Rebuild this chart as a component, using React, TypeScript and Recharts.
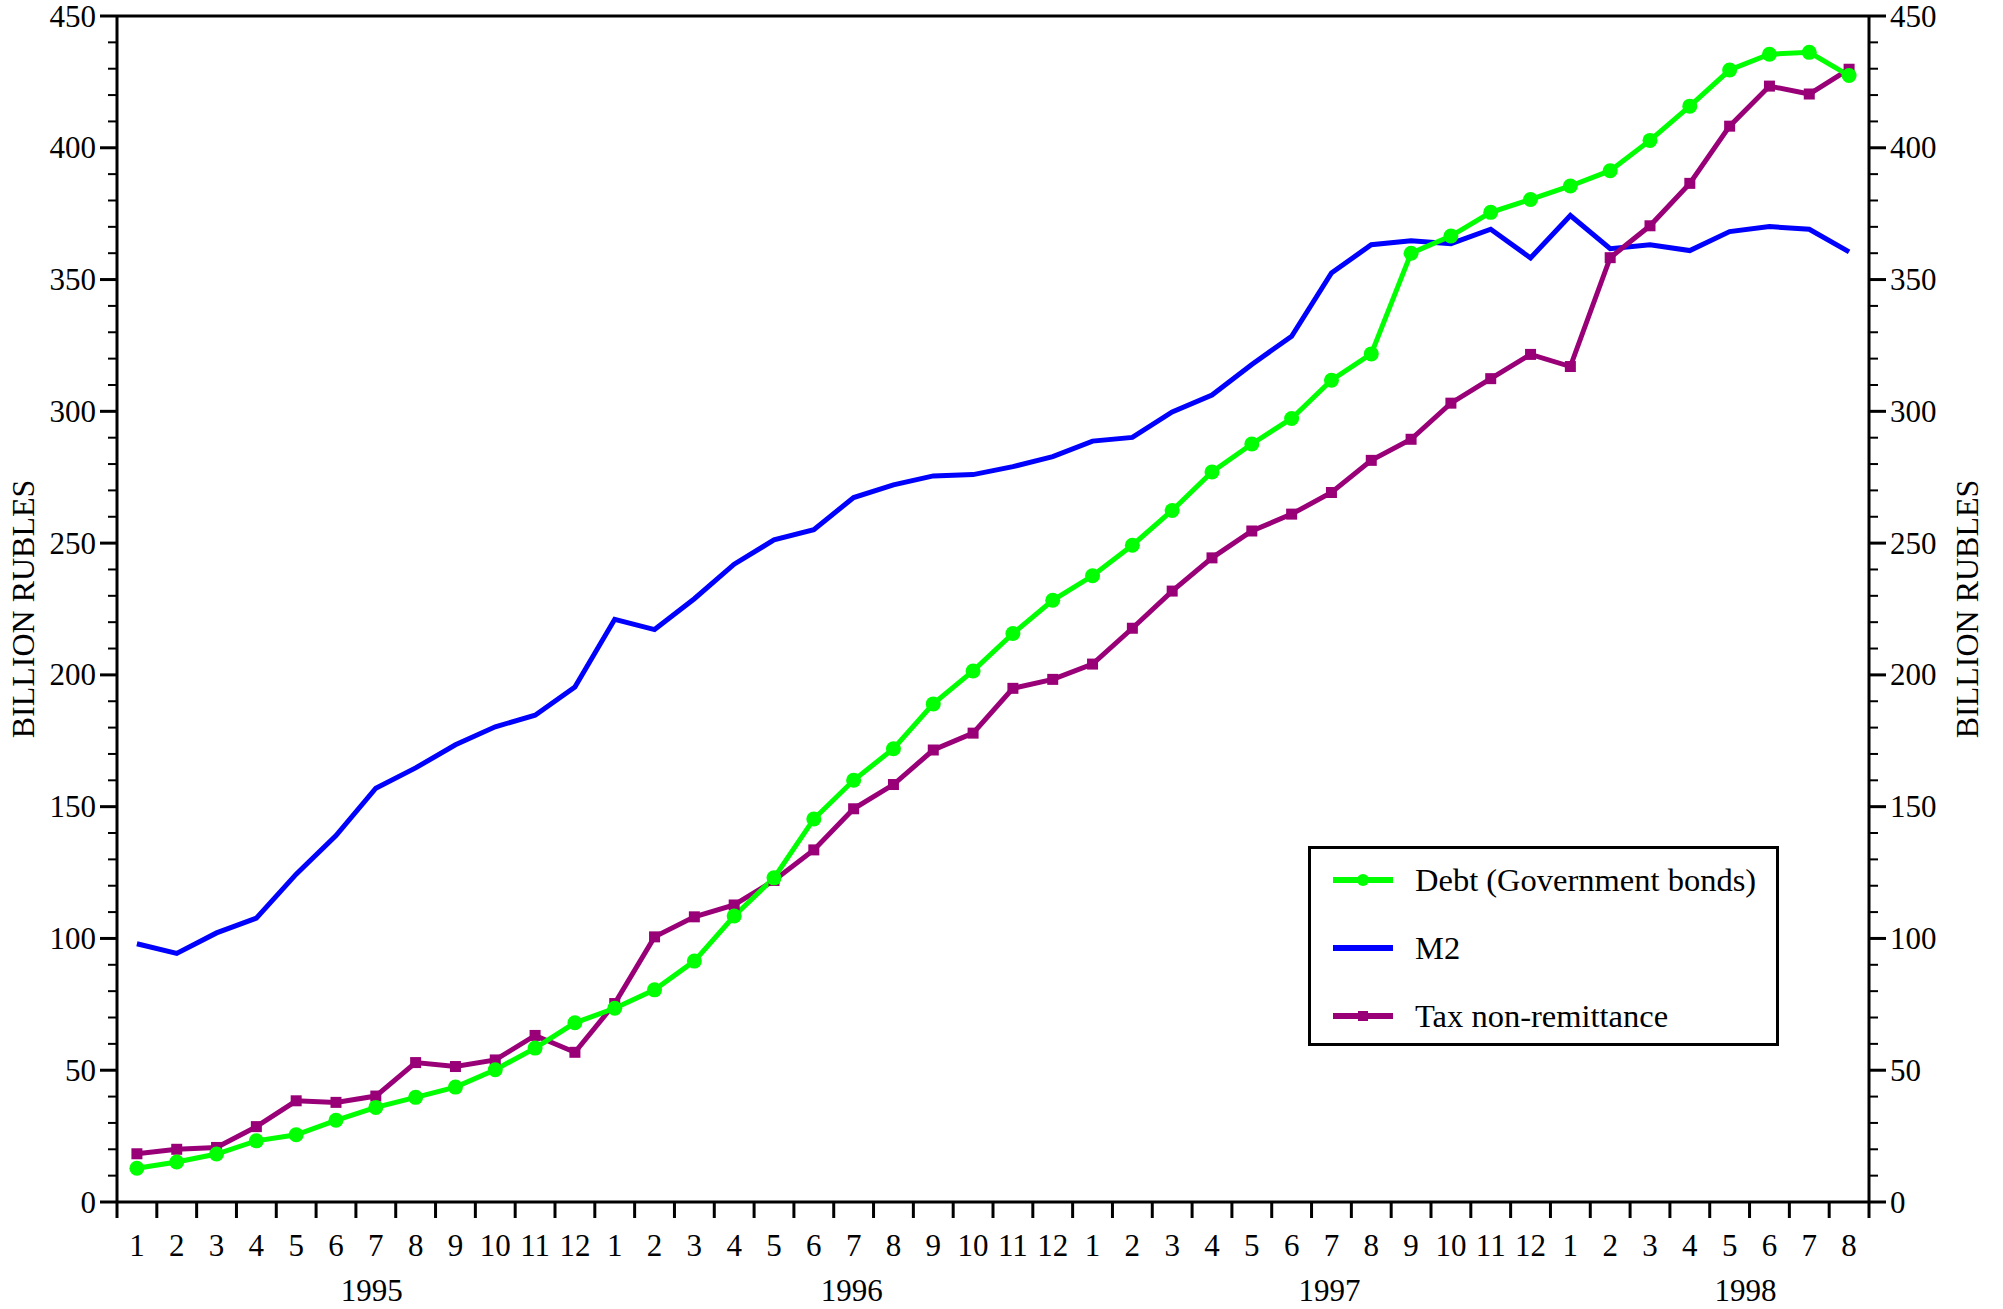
import { LineChart, Line, XAxis, YAxis, Legend, ReferenceLine } from "recharts";

const FONT = "'Liberation Serif', 'Times New Roman', serif";

const MONTHS = [
  "1", "2", "3", "4", "5", "6", "7", "8", "9", "10", "11", "12",
  "1", "2", "3", "4", "5", "6", "7", "8", "9", "10", "11", "12",
  "1", "2", "3", "4", "5", "6", "7", "8", "9", "10", "11", "12",
  "1", "2", "3", "4", "5", "6", "7", "8",
];
const YEARS = [
  1995, 1995, 1995, 1995, 1995, 1995, 1995, 1995, 1995, 1995, 1995, 1995,
  1996, 1996, 1996, 1996, 1996, 1996, 1996, 1996, 1996, 1996, 1996, 1996,
  1997, 1997, 1997, 1997, 1997, 1997, 1997, 1997, 1997, 1997, 1997, 1997,
  1998, 1998, 1998, 1998, 1998, 1998, 1998, 1998,
];

// Debt (Government bonds), billion rubles
const DEBT = [
  12.8, 15.2, 18.2, 23.2, 25.5, 31.0, 35.9, 39.7, 43.6, 50.2, 58.4, 68.0,
  73.5, 80.5, 91.4, 108.5, 123.0, 145.3, 160.0, 172.0, 189.0, 201.5, 215.7, 228.3,
  237.6, 249.2, 262.4, 277.0, 287.6, 297.3, 311.8, 321.8, 360.0, 366.5, 375.5, 380.4,
  385.5, 391.3, 402.8, 415.8, 429.5, 435.5, 436.2, 427.4,
];
const M2 = [
  98.0, 94.3, 102.1, 107.7, 124.4, 139.0, 157.0, 164.7, 173.5, 180.3, 184.7, 195.4,
  221.1, 217.2, 228.9, 242.0, 251.2, 255.1, 267.3, 272.1, 275.5, 276.0, 279.0, 282.8,
  288.7, 290.1, 299.8, 306.2, 317.8, 328.5, 352.5, 363.2, 364.7, 363.6, 369.1, 358.2,
  374.3, 361.7, 363.2, 361.0, 368.2, 370.1, 369.1, 360.5,
];
const TAX = [
  18.3, 20.0, 20.7, 28.6, 38.4, 37.8, 40.2, 52.9, 51.4, 53.9, 63.2, 56.8,
  75.3, 100.6, 108.2, 112.7, 122.0, 133.6, 149.2, 158.4, 171.5, 177.9, 194.9, 198.3,
  204.1, 217.7, 231.8, 244.4, 254.6, 261.0, 269.2, 281.4, 289.4, 303.1, 312.4, 321.6,
  317.0, 358.3, 370.4, 386.5, 408.2, 423.4, 420.4, 429.8,
];

const Y_TICKS = Array.from({ length: 46 }, (_, i) => i * 10);
// year captions, placed under month index (fractional)
const YEAR_LABELS = [
  { text: "1995", at: 5.9 },
  { text: "1996", at: 17.95 },
  { text: "1997", at: 29.95 },
  { text: "1998", at: 40.4 },
];

const data = MONTHS.map((m, i) => ({
  period: `${YEARS[i]}-${m}`,
  debt: DEBT[i],
  m2: M2[i],
  tax: TAX[i],
}));

const W = 2003;
const H = 1309;
const Y_AXIS_W = 110;
const MARGIN = { top: 16, right: 24, left: 7, bottom: 7 };
const PLOT_W = W - MARGIN.left - MARGIN.right - 2 * Y_AXIS_W;
const BAND = PLOT_W / MONTHS.length;
const FS = 31;

const GREEN = "#00ff00";
const BLUE = "#0000ff";
const PURPLE = "#990077";

function LeftTick({ x, y, payload }: any) {
  const major = payload.value % 50 === 0;
  return (
    <g>
      <line x1={x} x2={x - (major ? 17 : 9)} y1={y} y2={y} stroke="#000" strokeWidth={major ? 3 : 2} />
      {major && (
        <text x={x - 21} y={y} textAnchor="end" dominantBaseline="central" fontSize={FS} fontFamily={FONT} fill="#000">
          {payload.value}
        </text>
      )}
    </g>
  );
}

function RightTick({ x, y, payload }: any) {
  const major = payload.value % 50 === 0;
  return (
    <g>
      <line x1={x} x2={x + (major ? 17 : 9)} y1={y} y2={y} stroke="#000" strokeWidth={major ? 3 : 2} />
      {major && (
        <text x={x + 21} y={y} textAnchor="start" dominantBaseline="central" fontSize={FS} fontFamily={FONT} fill="#000">
          {payload.value}
        </text>
      )}
    </g>
  );
}

function MonthTick({ x, y, index }: any) {
  const year = YEAR_LABELS.find((l) => Math.floor(l.at + 0.5) === index);
  return (
    <g>
      <line x1={x - BAND / 2} x2={x - BAND / 2} y1={y} y2={y + 16} stroke="#000" strokeWidth={3} />
      {index === MONTHS.length - 1 && (
        <line x1={x + BAND / 2} x2={x + BAND / 2} y1={y} y2={y + 16} stroke="#000" strokeWidth={3} />
      )}
      <text x={x} y={y + 54} textAnchor="middle" fontSize={FS} fontFamily={FONT} fill="#000">
        {MONTHS[index]}
      </text>
      {year && (
        <text x={x + (year.at - index) * BAND} y={y + 99} textAnchor="middle" fontSize={FS} fontFamily={FONT} fill="#000">
          {year.text}
        </text>
      )}
    </g>
  );
}

const axisLabel = (side: "left" | "right") => (props: any) => {
  const { x, y, width, height } = props.viewBox;
  const cx = side === "left" ? x + 15.5 : x + 98;
  const cy = y + height / 2;
  return (
    <text
      x={cx}
      y={cy}
      transform={`rotate(-90, ${cx}, ${cy})`}
      textAnchor="middle"
      dominantBaseline="central"
      fontSize={32}
      fontFamily={FONT}
      fill="#000"
    >
      BILLION RUBLES
    </text>
  );
};

function SquareDot(props: any) {
  const { cx, cy, index } = props;
  return <rect key={`sq-${index}`} x={cx - 5.5} y={cy - 5.5} width={11} height={11} fill={PURPLE} />;
}

const LEGEND_ITEMS = [
  { name: "Debt (Government bonds)", color: GREEN, marker: "circle" },
  { name: "M2", color: BLUE, marker: "none" },
  { name: "Tax non-remittance", color: PURPLE, marker: "square" },
];

function LegendBox() {
  return (
    <div
      style={{
        position: "relative",
        width: 471,
        height: 200,
        boxSizing: "border-box",
        border: "3px solid #000",
        background: "#fff",
      }}
    >
      {LEGEND_ITEMS.map((item, i) => (
        <div key={item.name} style={{ position: "absolute", left: 0, top: 31 + i * 68 - 20, height: 40, width: "100%" }}>
          <svg width={62} height={20} style={{ position: "absolute", left: 21, top: 10 }}>
            <line x1={1} x2={61} y1={10} y2={10} stroke={item.color} strokeWidth={6} />
            {item.marker === "circle" && <circle cx={31} cy={10} r={6} fill={item.color} />}
            {item.marker === "square" && <rect x={26} y={5} width={10} height={10} fill={item.color} />}
          </svg>
          <span
            style={{
              position: "absolute",
              left: 104,
              top: 0,
              lineHeight: "40px",
              fontSize: 32.5,
              fontFamily: FONT,
              color: "#000",
              whiteSpace: "nowrap",
            }}
          >
            {item.name}
          </span>
        </div>
      ))}
    </div>
  );
}

export default function App() {
  return (
    <div style={{ position: "absolute", left: 0, top: 0, width: W, height: H, background: "#fff" }}>
      <LineChart width={W} height={H} data={data} margin={MARGIN}>
        <XAxis
          dataKey="period"
          interval={0}
          height={100}
          padding={{ left: BAND / 2, right: BAND / 2 }}
          tickSize={0}
          tickMargin={0}
          tickLine={false}
          axisLine={{ stroke: "#000", strokeWidth: 3 }}
          tick={<MonthTick />}
        />
        <YAxis
          yAxisId="left"
          width={Y_AXIS_W}
          domain={[0, 450]}
          ticks={Y_TICKS}
          interval={0}
          tickSize={0}
          tickMargin={0}
          tickLine={false}
          axisLine={{ stroke: "#000", strokeWidth: 3 }}
          tick={<LeftTick />}
          label={{ content: axisLabel("left") }}
        />
        <YAxis
          yAxisId="right"
          orientation="right"
          width={Y_AXIS_W}
          domain={[0, 450]}
          ticks={Y_TICKS}
          interval={0}
          tickSize={0}
          tickMargin={0}
          tickLine={false}
          axisLine={{ stroke: "#000", strokeWidth: 3 }}
          tick={<RightTick />}
          label={{ content: axisLabel("right") }}
        />
        <ReferenceLine yAxisId="left" y={450} stroke="#000" strokeWidth={3} />
        {/* same M2 values on the right scale, invisible; only gives the right axis a domain */}
        <Line
          yAxisId="right"
          type="linear"
          dataKey="m2"
          stroke="none"
          dot={false}
          activeDot={false}
          legendType="none"
          isAnimationActive={false}
        />
        <Line
          yAxisId="left"
          type="linear"
          dataKey="m2"
          name="M2"
          stroke={BLUE}
          strokeWidth={5}
          dot={false}
          isAnimationActive={false}
        />
        <Line
          yAxisId="left"
          type="linear"
          dataKey="tax"
          name="Tax non-remittance"
          stroke={PURPLE}
          strokeWidth={5}
          dot={SquareDot}
          isAnimationActive={false}
        />
        <Line
          yAxisId="left"
          type="linear"
          dataKey="debt"
          name="Debt (Government bonds)"
          stroke={GREEN}
          strokeWidth={5}
          dot={{ r: 7.5, fill: GREEN, stroke: "none" }}
          isAnimationActive={false}
        />
        <Legend
          layout="vertical"
          align="center"
          verticalAlign="middle"
          wrapperStyle={{ left: 1308, top: 846, width: 471, height: 200 }}
          content={() => <LegendBox />}
        />
      </LineChart>
    </div>
  );
}
